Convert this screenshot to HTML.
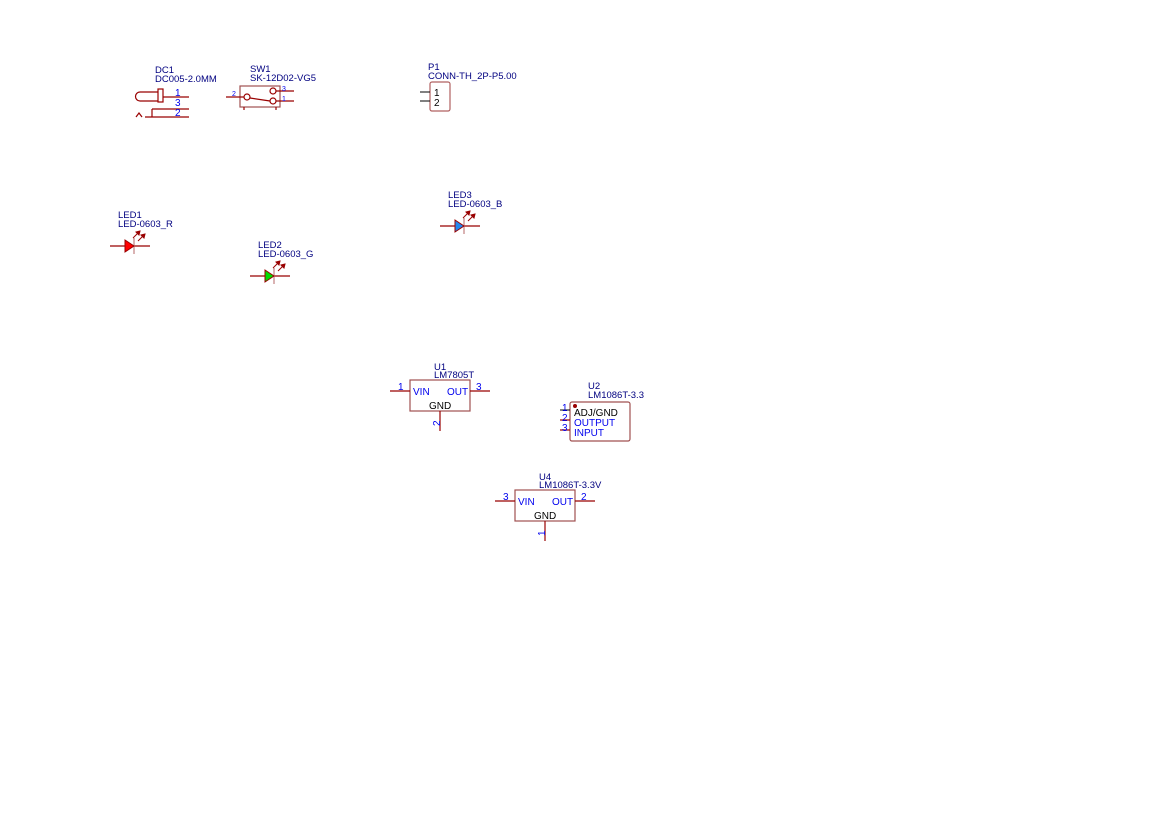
<!DOCTYPE html>
<html><head><style>body{margin:0;background:#fff}svg{display:block}</style></head><body>
<svg width="1169" height="827" viewBox="0 0 1169 827" xmlns="http://www.w3.org/2000/svg" font-family="Liberation Sans, sans-serif" font-size="9.5">
<defs>
<g id="arr" stroke="#990000" fill="#990000" stroke-width="1">
<line x1="0" y1="0" x2="6" y2="-6"/><polygon points="7,-7 3,-6 6,-3"/>
</g>
</defs>
<g fill="#000080">
<text x="155" y="73">DC1</text><text x="155" y="82">DC005-2.0MM</text>
<text x="250" y="72">SW1</text><text x="250" y="81">SK-12D02-VG5</text>
<text x="428" y="70">P1</text><text x="428" y="79">CONN-TH_2P-P5.00</text>
<text x="118" y="218">LED1</text><text x="118" y="227">LED-0603_R</text>
<text x="258" y="248">LED2</text><text x="258" y="257">LED-0603_G</text>
<text x="448" y="198">LED3</text><text x="448" y="207">LED-0603_B</text>
<text x="434" y="370">U1</text><text x="434" y="378">LM7805T</text>
<text x="588" y="389">U2</text><text x="588" y="398">LM1086T-3.3</text>
<text x="539" y="480">U4</text><text x="539" y="488">LM1086T-3.3V</text>
</g>
<g stroke="#990000" fill="none" stroke-width="1.2">
<line x1="163" y1="97" x2="189" y2="97"/><line x1="152" y1="109" x2="189" y2="109"/><line x1="145" y1="117" x2="189" y2="117"/>
<path d="M158 92 H140 A4.5 4.5 0 0 0 140 101 H158"/><rect x="158" y="89" width="5" height="13"/>
<line x1="152" y1="109" x2="152" y2="117"/><path d="M136 117 L139 113 L142 117"/>
<rect x="240" y="86" width="40" height="21" stroke="#a05050"/>
<line x1="226" y1="97" x2="244" y2="97"/><line x1="276" y1="91" x2="294" y2="91"/><line x1="276" y1="101" x2="294" y2="101"/>
<circle cx="247" cy="97" r="3"/><circle cx="273" cy="91" r="3"/><circle cx="273" cy="101" r="3"/>
<line x1="250" y1="98" x2="270" y2="101"/>
<line x1="244" y1="107" x2="244" y2="110"/><line x1="276" y1="107" x2="276" y2="110"/>
<rect x="430" y="82" width="20" height="29" rx="2" stroke="#b06060"/>
<line x1="110" y1="246" x2="150" y2="246"/><line x1="134" y1="238" x2="134" y2="254" stroke="#c08080"/>
<line x1="250" y1="276" x2="290" y2="276"/><line x1="274" y1="268" x2="274" y2="284" stroke="#c08080"/>
<line x1="440" y1="226" x2="480" y2="226"/><line x1="464" y1="218" x2="464" y2="234" stroke="#c08080"/>
<rect x="410" y="380" width="60" height="31" stroke="#a05050"/>
<line x1="390" y1="391" x2="410" y2="391"/><line x1="470" y1="391" x2="490" y2="391"/><line x1="440" y1="411" x2="440" y2="431"/>
<rect x="570" y="402" width="60" height="39" rx="2" stroke="#a05050"/>
<line x1="560" y1="420" x2="570" y2="420"/><line x1="560" y1="430" x2="570" y2="430"/>
<rect x="515" y="490" width="60" height="31" stroke="#a05050"/>
<line x1="495" y1="501" x2="515" y2="501"/><line x1="575" y1="501" x2="595" y2="501"/><line x1="545" y1="521" x2="545" y2="541"/>
</g>
<g stroke="#000" stroke-width="1"><line x1="420" y1="92" x2="430" y2="92"/><line x1="420" y1="101" x2="430" y2="101"/><line x1="560" y1="410" x2="570" y2="410"/></g>
<polygon points="125,240 134,246 125,252" fill="#ff0000" stroke="#990000"/>
<polygon points="265,270 274,276 265,282" fill="#00dd00" stroke="#990000"/>
<polygon points="455,220 464,226 455,232" fill="#2288ee" stroke="#990000"/>
<use href="#arr" x="133" y="238"/><use href="#arr" x="138" y="241"/>
<use href="#arr" x="273" y="268"/><use href="#arr" x="278" y="271"/>
<use href="#arr" x="463" y="218"/><use href="#arr" x="468" y="221"/>
<circle cx="575" cy="406" r="2" fill="#990000"/>
<g fill="#0000ee" font-size="10">
<text x="175" y="96">1</text><text x="175" y="106">3</text><text x="175" y="116">2</text>
<text x="232" y="96" font-size="7">2</text><text x="282" y="91" font-size="7">3</text><text x="282" y="101" font-size="7">1</text>
<text x="398" y="390">1</text><text x="476" y="390">3</text>
<text x="413" y="395">VIN</text><text x="447" y="395">OUT</text>
<text x="562" y="411">1</text><text x="562" y="421">2</text><text x="562" y="431">3</text>
<text x="574" y="426">OUTPUT</text><text x="574" y="436">INPUT</text>
<text x="503" y="500">3</text><text x="581" y="500">2</text>
<text x="518" y="505">VIN</text><text x="552" y="505">OUT</text>
<text transform="translate(434,419) rotate(-90)" x="-7" y="6">2</text>
<text transform="translate(539,529) rotate(-90)" x="-7" y="6">1</text>
</g>
<g fill="#000" font-size="10">
<text x="434" y="96">1</text><text x="434" y="106">2</text>
<text x="429" y="409">GND</text><text x="534" y="519">GND</text>
<text x="574" y="416">ADJ/GND</text>
</g>
</svg>
</body></html>
